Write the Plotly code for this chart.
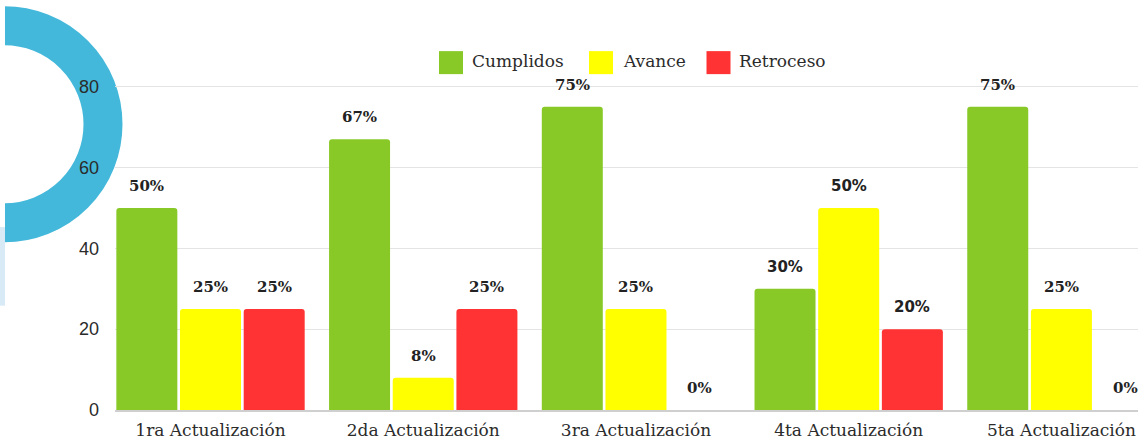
import plotly.graph_objects as go

# ---------------- data ----------------
categories = ["1ra Actualización", "2da Actualización", "3ra Actualización",
              "4ta Actualización", "5ta Actualización"]
series_names = ["Cumplidos", "Avance", "Retroceso"]
cumplidos = [50, 67, 75, 30, 75]
avance = [25, 8, 25, 50, 25]
retroceso = [25, 25, 0, 20, 0]
y_ticks = [0, 20, 40, 60, 80]

# ---------------- style ----------------
colors = ["#88C928", "#FFFF00", "#FF3333"]
ring_color = "#43B8DA"
pale_blue = "#D7EAF5"
text_color = "#2B2B2B"
serif = "DejaVu Serif"

W, H = 1138, 440
ML, MR, MT, MB = 115, 0, 83, 28
PW, PH = W - ML - MR, H - MT - MB
X_RANGE = [-0.449, 4.36]
Y_RANGE = [0, 80.9]
BARGAP, BARGROUPGAP = 0.102, 0.042


def px2x(px):
    return (px - ML) / PW


def py2y(py):
    return (H - MB - py) / PH


values = [cumplidos, avance, retroceso]

fig = go.Figure()
for name, vals, col in zip(series_names, values, colors):
    fig.add_trace(go.Bar(
        x=categories, y=vals, name=name,
        marker=dict(color=col, line=dict(width=0)),
        hoverinfo="x+y+name",
    ))

# data labels above bars
cat_px = PW / (X_RANGE[1] - X_RANGE[0])
slot = cat_px * (1 - BARGAP) / len(series_names)
label_fonts = [serif, serif, serif, "DejaVu Sans", serif]
annotations = []
for i, vals in enumerate(values):
    for j, v in enumerate(vals):
        annotations.append(dict(
            x=categories[j], y=v, xref="x", yref="y",
            text=f"<b>{v}%</b>", showarrow=False,
            xshift=(i - 1) * slot, yshift=22, yanchor="middle",
            font=dict(family=label_fonts[j], size=15, color="#222222"),
        ))

# custom legend (large square swatches)
legend_swatch_px = [451, 601, 718.5]
legend_text_px = [470, 621, 737]
shapes = []
for name, col, sx, tx in zip(series_names, colors, legend_swatch_px, legend_text_px):
    shapes.append(dict(
        type="rect", xref="paper", yref="paper",
        xsizemode="pixel", ysizemode="pixel",
        xanchor=px2x(sx), yanchor=py2y(62.5),
        x0=-12, x1=12, y0=-11.5, y1=11.5,
        fillcolor=col, line=dict(width=0), layer="above",
    ))
    annotations.append(dict(
        x=px2x(tx), y=py2y(61), xref="paper", yref="paper",
        xanchor="left", yanchor="middle", showarrow=False,
        text=name, font=dict(family=serif, size=17, color=text_color),
    ))

# decorative background: blue ring + pale strip at the left
shapes.append(dict(
    type="circle", xref="paper", yref="paper",
    xsizemode="pixel", ysizemode="pixel",
    xanchor=px2x(4.5), yanchor=py2y(124.5),
    x0=-98.5, x1=98.5, y0=-98.5, y1=98.5,
    line=dict(color=ring_color, width=39),
    fillcolor="rgba(0,0,0,0)", layer="below",
))
shapes.append(dict(
    type="rect", xref="paper", yref="paper",
    x0=px2x(0), x1=px2x(5), y0=py2y(440), y1=py2y(0),
    fillcolor="white", line=dict(width=0), layer="below",
))
shapes.append(dict(
    type="rect", xref="paper", yref="paper",
    x0=px2x(0), x1=px2x(5), y0=py2y(307), y1=py2y(228),
    fillcolor=pale_blue, line=dict(width=0), layer="below",
))

fig.update_layout(
    width=W, height=H, autosize=False,
    margin=dict(l=ML, r=MR, t=MT, b=MB, pad=0),
    paper_bgcolor="white", plot_bgcolor="white",
    barmode="group", bargap=BARGAP, bargroupgap=BARGROUPGAP,
    barcornerradius=3,
    showlegend=False,
    shapes=shapes, annotations=annotations,
    xaxis=dict(
        range=X_RANGE, showgrid=False, zeroline=False,
        showline=True, linecolor="#CFCFCF", linewidth=2,
        ticks="", tickfont=dict(family=serif, size=17, color=text_color),
        ticklabelstandoff=4,
    ),
    yaxis=dict(
        range=Y_RANGE, tickvals=y_ticks, showgrid=True,
        gridcolor="#E4E4E4", gridwidth=1, zeroline=False,
        showline=False, ticks="",
        tickfont=dict(family="Liberation Sans", size=18, color=text_color),
        ticklabelstandoff=15,
    ),
)

fig.write_html("out.html",
               config={"displayModeBar": False},
               post_script="document.body.style.margin='0';document.body.style.overflow='hidden';")
